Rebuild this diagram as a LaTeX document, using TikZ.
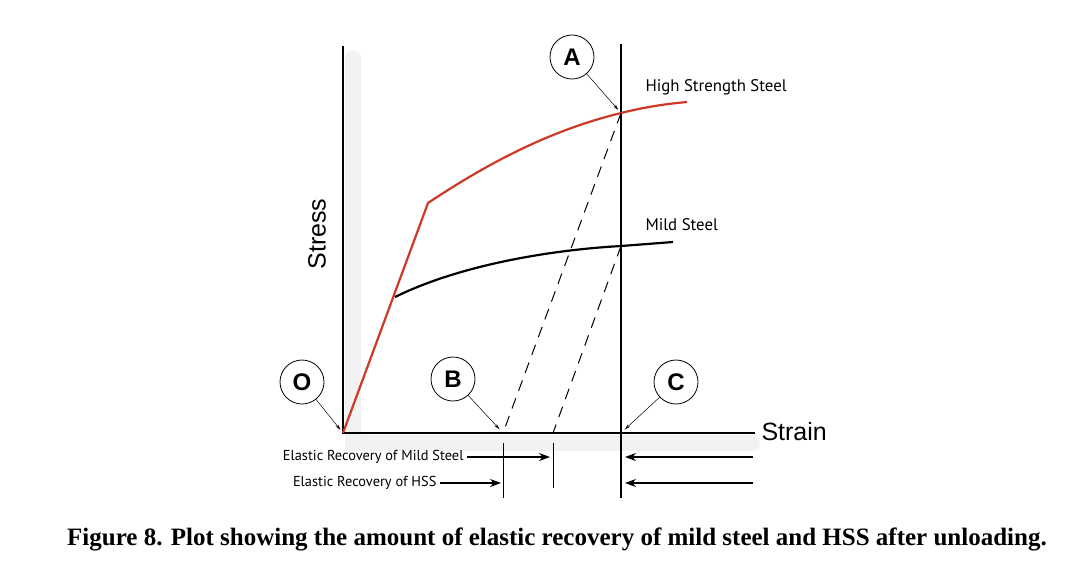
\documentclass[tikz,border=0pt]{standalone}
\usepackage{fontspec}
\setmainfont{Liberation Serif}
\newfontfamily\lblfont{PT Sans}
\newfontfamily\axfont{Liberation Sans}
\usetikzlibrary{positioning,arrows.meta}
\definecolor{hssred}{RGB}{206,56,38}

\begin{document}
\begin{tikzpicture}[x=1pt,y=-1pt,
    callout/.style={draw,circle,thick,minimum size=44pt,inner sep=0pt,font=\axfont\bfseries\fontsize{24}{24}\selectfont},
    leader/.style={-{Stealth[length=6pt,width=3pt]},line width=0.5pt},
    recov/.style={-{Stealth[length=11pt,width=8pt]},line width=1.1pt},
    lbl/.style={font=\lblfont\fontsize{16.8}{17}\selectfont},
    small/.style={font=\lblfont\fontsize{14.4}{15}\selectfont}]
    \useasboundingbox (0,0) rectangle (1088,566);
    % Define points
    \coordinate (o) at (343,433);
    \coordinate (yield) at (428,203);
    \coordinate (ms0) at (395,297);
    \coordinate (hss) at (621,113);
    \coordinate (mild) at (621,246);
    \coordinate (b) at (503,433);
    \coordinate (m) at (553,433);
    \coordinate (c) at (621,433);
    % Axes
    \draw[gray!10,line width=16pt,line cap=round] (353,58) -- (353,443) -- (752,443);
    \draw[line width=2.6pt] (343,46) -- (o) -- (755,433);
    \draw[line width=1.1pt] (621,44) -- (621,498);
    \node[font=\axfont\fontsize{25}{25}\selectfont,anchor=west] (strain) at (758,432) {Strain};
    \node[font=\axfont\fontsize{25}{25}\selectfont,rotate=90] (stress) at (317,234) {Stress};
    % Curves
    \draw[hssred,line width=2.2pt] (o) -- (yield)
        .. controls (500,155) and (560,128) .. (hss)
        .. controls (645,107) and (665,104) .. (687,102);
    \draw[line width=2.2pt] (ms0) .. controls (460,265) and (550,250) .. (mild) -- (673,242);
    \draw[dash pattern=on 11pt off 8pt,line width=1pt] (hss) -- (b);
    \draw[dash pattern=on 11pt off 8pt,line width=1pt] (mild) -- (m);
    \node[lbl,anchor=west] (hsslbl) at (642,87) {High Strength Steel};
    \node[lbl,anchor=west] (mildlbl) at (642,225) {Mild Steel};
    % Callouts
    \node[callout] (A) at (572,57) {A};
    \node[callout] (B) at (453,379) {B};
    \node[callout] (C) at (676,382) {C};
    \node[callout] (O) at (302,382) {O};
    \draw[leader,shorten >=4pt] (A) -- (hss);
    \draw[leader,shorten >=5pt] (B) -- (b);
    \draw[leader,shorten >=5pt] (C) -- (c);
    \draw[leader,shorten >=4pt] (O) -- (o);
    % Recovery marks
    \foreach \p/\e in {b/498,m/488,c/498}
        \draw[line width=1pt] ([yshift=-10pt]\p) -- (\p |- 0,\e);
    \node[small,anchor=east] (mrec) at (467,457) {Elastic Recovery of Mild Steel};
    \node[small,anchor=east] (hrec) at (440,483) {Elastic Recovery of HSS};
    \coordinate (mend) at (m |- mrec);
    \coordinate (hend) at (b |- hrec);
    \coordinate (mright) at (753,457);
    \coordinate (hright) at (753,483);
    \draw[recov] (mrec) -- ([xshift=-3pt]mend);
    \draw[recov] (hrec) -- ([xshift=-2pt]hend);
    \draw[recov] (mright) -- ([xshift=4pt]c |- mright);
    \draw[recov] (hright) -- ([xshift=4pt]c |- hright);
    % Caption
    \node[font=\bfseries\fontsize{25}{25}\selectfont] (caption) at (557,539)
        {Figure 8. Plot showing the amount of elastic recovery of mild steel and HSS after unloading.};
\end{tikzpicture}
\end{document}
